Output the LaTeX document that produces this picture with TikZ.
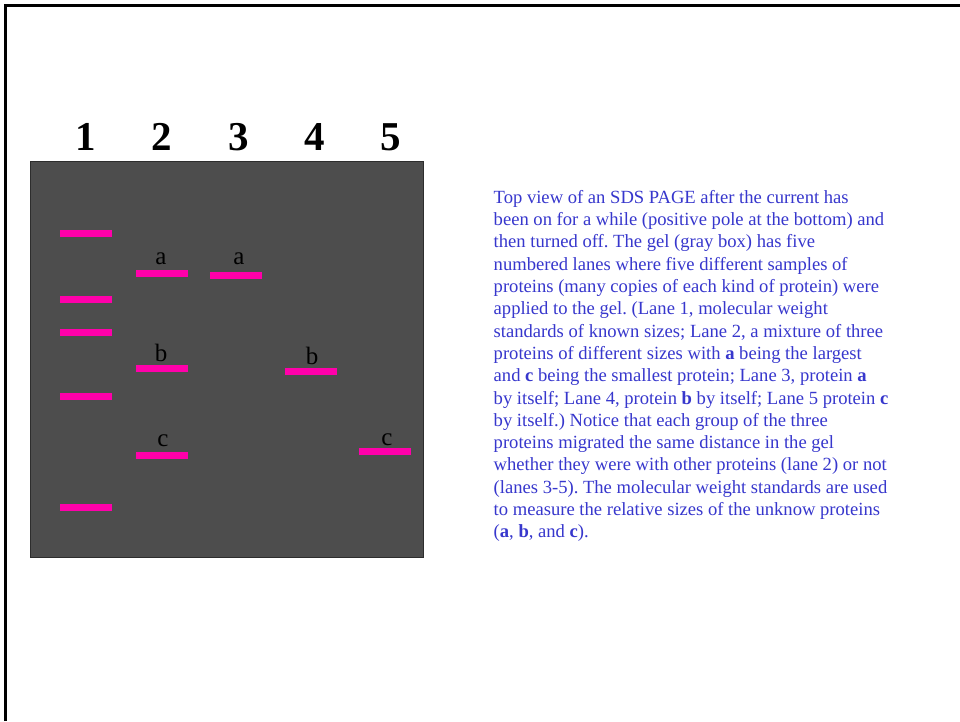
\documentclass[tikz,border=0pt]{standalone}
\usepackage{fontspec}
\setmainfont{Liberation Serif}
\definecolor{gelgray}{RGB}{77,77,77}
\definecolor{geledge}{RGB}{45,45,45}
\definecolor{bandpink}{RGB}{255,0,170}
\definecolor{txtblue}{RGB}{55,55,205}
\tikzset{
  band/.style={fill=bandpink, draw=none, minimum width=52pt, minimum height=7pt, inner sep=0pt, anchor=north west},
  lanenum/.style={font=\fontsize{41}{41}\selectfont\bfseries, anchor=base, inner sep=0pt},
  plabel/.style={font=\fontsize{25}{25}\selectfont, anchor=base, inner sep=0pt, text=black},
}
\begin{document}
\frenchspacing
\begin{tikzpicture}[x=1pt,y=-1pt]
\useasboundingbox (0,0) rectangle (960,721);
\fill[white] (0,0) rectangle (960,721);
% frame lines (top and left only)
\draw[line width=3pt, black] (5.5,721) -- (5.5,5.5) -- (960,5.5);
% gel
\node[draw=geledge, fill=gelgray, line width=1pt, minimum width=393pt, minimum height=396pt, inner sep=0pt, anchor=north west] (gel) at (29.5,160.5) {};
% lane numbers
\node[lanenum] (n1) at (86,150) {1};
\node[lanenum] (n2) at (162,150) {2};
\node[lanenum] (n3) at (238.5,150) {3};
\node[lanenum] (n4) at (314.5,150) {4};
\node[lanenum] (n5) at (391,150) {5};
% lane 1 standards
\node[band] (s1) at (59.5,230) {};
\node[band] (s2) at (59.5,296) {};
\node[band] (s3) at (59.5,329) {};
\node[band] (s4) at (59.5,392.5) {};
\node[band] (s5) at (59.5,504) {};
% lane 2
\node[band] (a2) at (135.5,270) {};
\node[band] (b2) at (135.5,365) {};
\node[band] (c2) at (135.5,451.5) {};
% lane 3
\node[band] (a3) at (210,271.5) {};
% lane 4
\node[band] (b4) at (284.5,367.5) {};
% lane 5
\node[band] (c5) at (359,447.5) {};
% labels
\node[plabel] (la2) at (161,264) {a};
\node[plabel] (la3) at (239,264) {a};
\node[plabel] (lb2) at (161,361) {b};
\node[plabel] (lb4) at (312,364) {b};
\node[plabel] (lc2) at (163,446.5) {c};
\node[plabel] (lc5) at (387,445) {c};
% description
\node[anchor=north west, inner sep=0pt, text=txtblue, align=left,
      font=\fontsize{18.6}{22.3}\selectfont] (desc) at (493.5,190) {%
Top view of an SDS PAGE after the current has\\
been on for a while (positive pole at the bottom) and\\
then turned off. The gel (gray box) has five\\
numbered lanes where five different samples of\\
proteins (many copies of each kind of protein) were\\
applied to the gel. (Lane 1, molecular weight\\
standards of known sizes; Lane 2, a mixture of three\\
proteins of different sizes with \textbf{a} being the largest\\
and \textbf{c} being the smallest protein; Lane 3, protein \textbf{a}\\
by itself; Lane 4, protein \textbf{b} by itself; Lane 5 protein \textbf{c}\\
by itself.) Notice that each group of the three\\
proteins migrated the same distance in the gel\\
whether they were with other proteins (lane 2) or not\\
(lanes 3-5). The molecular weight standards are used\\
to measure the relative sizes of the unknow proteins\\
(\textbf{a}, \textbf{b}, and \textbf{c}).};
\end{tikzpicture}
\end{document}
